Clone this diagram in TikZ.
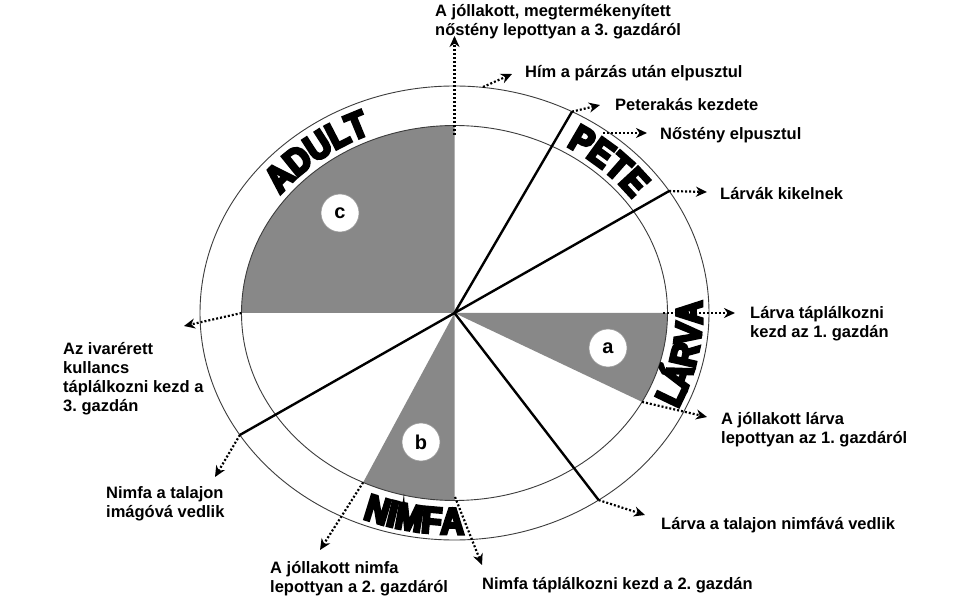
\documentclass[tikz,border=0pt]{standalone}
\usepackage{fontspec}
\setmainfont{Liberation Sans}
\newfontfamily\heavyfont[FakeBold=8,FakeStretch=0.88]{Liberation Sans Bold}
\usetikzlibrary{arrows.meta,calc,decorations.text}
\definecolor{wedgegray}{RGB}{136,136,136}
\definecolor{ringgray}{RGB}{60,60,60}
\begin{document}
\frenchspacing
\begin{tikzpicture}[x=1pt,y=1pt,
  lbl/.style={font=\bfseries\fontsize{16.5}{19}\selectfont, anchor=west, align=left, inner sep=0pt},
  ringline/.style={draw=ringgray, line width=0.9pt},
  spoke/.style={line width=2.4pt, draw=black},
  darr/.style={line width=2.2pt, dash pattern=on 2pt off 2pt, -{Stealth[length=11pt,width=10pt,inset=3.5pt]}},
  wedge/.style={fill=wedgegray},
  badge/.style={circle, fill=white, draw=gray!80, line width=0.6pt, minimum size=38pt, inner sep=0pt, font=\bfseries\fontsize{20}{20}\selectfont},
  outtext/.style={decorate, decoration={text along path, text align=center, text={|\heavyfont\fontsize{37}{37}\selectfont|#1}}}
]
\fill[white] (0,0) rectangle (955,611);
\useasboundingbox (0,0) rectangle (955,611);

\coordinate (C) at (454.5,298);
% spoke ends on outer ellipse
\coordinate (sP) at ($(C)+(62.5:254.5pt and 227pt)$);
\coordinate (sL) at ($(C)+(32.5:254.5pt and 227pt)$);
\coordinate (sR) at ($(C)+(-55.5:254.5pt and 227pt)$);
\coordinate (sW) at ($(C)+(212.5:254.5pt and 227pt)$);
% inner points
\coordinate (iTop) at ($(C)+(90:213pt and 187.5pt)$);
\coordinate (iLeft) at ($(C)+(180:213pt and 187.5pt)$);
\coordinate (iRight) at ($(C)+(0:213pt and 187.5pt)$);
\coordinate (iA) at ($(C)+(-28.3:213pt and 187.5pt)$);
\coordinate (iB) at ($(C)+(244.6:213pt and 187.5pt)$);
\coordinate (iBot) at ($(C)+(270:213pt and 187.5pt)$);

% grey wedges
\fill[wedge] (C) -- (iTop) arc[start angle=90,end angle=180,x radius=213pt,y radius=187.5pt] -- cycle;
\fill[wedge] (C) -- (iRight) arc[start angle=0,end angle=-28.3,x radius=213pt,y radius=187.5pt] -- cycle;
\fill[wedge] (C) -- (iB) arc[start angle=244.6,end angle=270,x radius=213pt,y radius=187.5pt] -- cycle;

% rings
\draw[ringline] (C) ellipse[x radius=254.5pt, y radius=227pt];
\draw[ringline] (C) ellipse[x radius=213pt, y radius=187.5pt];

% spokes
\draw[spoke] (C) -- (sP);
\draw[spoke] (C) -- (sL);
\draw[spoke] (C) -- (sR);
\draw[spoke] (C) -- (sW);

% curved stage names
\path[outtext=ADULT] ($(C)+(158:220pt and 194pt)$) arc[start angle=158,end angle=98,x radius=220pt,y radius=194pt];
\path[outtext=PETE] ($(C)+(77:220pt and 194pt)$) arc[start angle=77,end angle=17,x radius=220pt,y radius=194pt];
\path[outtext=LÁRVA] ($(C)+(-41:247.5pt and 221pt)$) arc[start angle=-41,end angle=19,x radius=247.5pt,y radius=221pt];
\path[outtext=NIMFA] ($(C)+(230:247.5pt and 221pt)$) arc[start angle=230,end angle=290,x radius=247.5pt,y radius=221pt];

% badges
\node[badge] (bc) at (340,398) {c};
\node[badge] (ba) at (608,263) {a};
\node[badge] (bb) at (421,169) {b};

% labels
\node[lbl] (L1) at (435,589) {A jóllakott, megtermékenyített\\nőstény lepottyan a 3. gazdáról};
\node[lbl] (L2) at (525,538) {Hím a párzás után elpusztul};
\node[lbl] (L3) at (615,506) {Peterakás kezdete};
\node[lbl] (L4) at (660,476) {Nőstény elpusztul};
\node[lbl] (L5) at (720,417) {Lárvák kikelnek};
\node[lbl] (L6) at (750,287) {Lárva táplálkozni\\kezd az 1. gazdán};
\node[lbl] (L7) at (721,181) {A jóllakott lárva\\lepottyan az 1. gazdáról};
\node[lbl] (L8) at (661,86) {Lárva a talajon nimfává vedlik};
\node[lbl] (L9) at (482,26) {Nimfa táplálkozni kezd a 2. gazdán};
\node[lbl] (L10) at (270,32.5) {A jóllakott nimfa\\lepottyan a 2. gazdáról};
\node[lbl] (L11) at (106,107.5) {Nimfa a talajon\\imágóvá vedlik};
\node[lbl] (L12) at (63,232) {Az ivarérett\\kullancs\\táplálkozni kezd a\\3. gazdán};

% arrow start / tip coordinates
\coordinate (a1s) at (454.5,476);  \coordinate (a1t) at (454.5,575);
\coordinate (a2s) at (483,524);    \coordinate (a2t) at (512,537);
\coordinate (a3t) at (600,506);
\coordinate (a4s) at (603,478);    \coordinate (a4t) at (647,478);
\coordinate (a5t) at (707,419);
\coordinate (a6s) at (663,298);    \coordinate (a6t) at (735,298);
\coordinate (a7t) at (707,194);
\coordinate (a8t) at (645,96);
\coordinate (a9s) at (455,114);    \coordinate (a9t) at (482,46);
\coordinate (a10t) at (320,61);
\coordinate (a11t) at (215,134);
\coordinate (a12t) at (184,285);

\draw[darr] (a1s) -- (a1t);
\draw[darr] (a2s) -- (a2t);
\draw[darr] (sP) -- (a3t);
\draw[darr] (a4s) -- (a4t);
\draw[darr] (sL) -- (a5t);
\draw[darr] (a6s) -- (a6t);
\draw[darr] (iA) -- (a7t);
\draw[darr] (sR) -- (a8t);
\draw[darr] (a9s) -- (a9t);
\draw[darr] (iB) -- (a10t);
\draw[darr] (sW) -- (a11t);
\draw[darr] (iLeft) -- (a12t);
\end{tikzpicture}
\end{document}
